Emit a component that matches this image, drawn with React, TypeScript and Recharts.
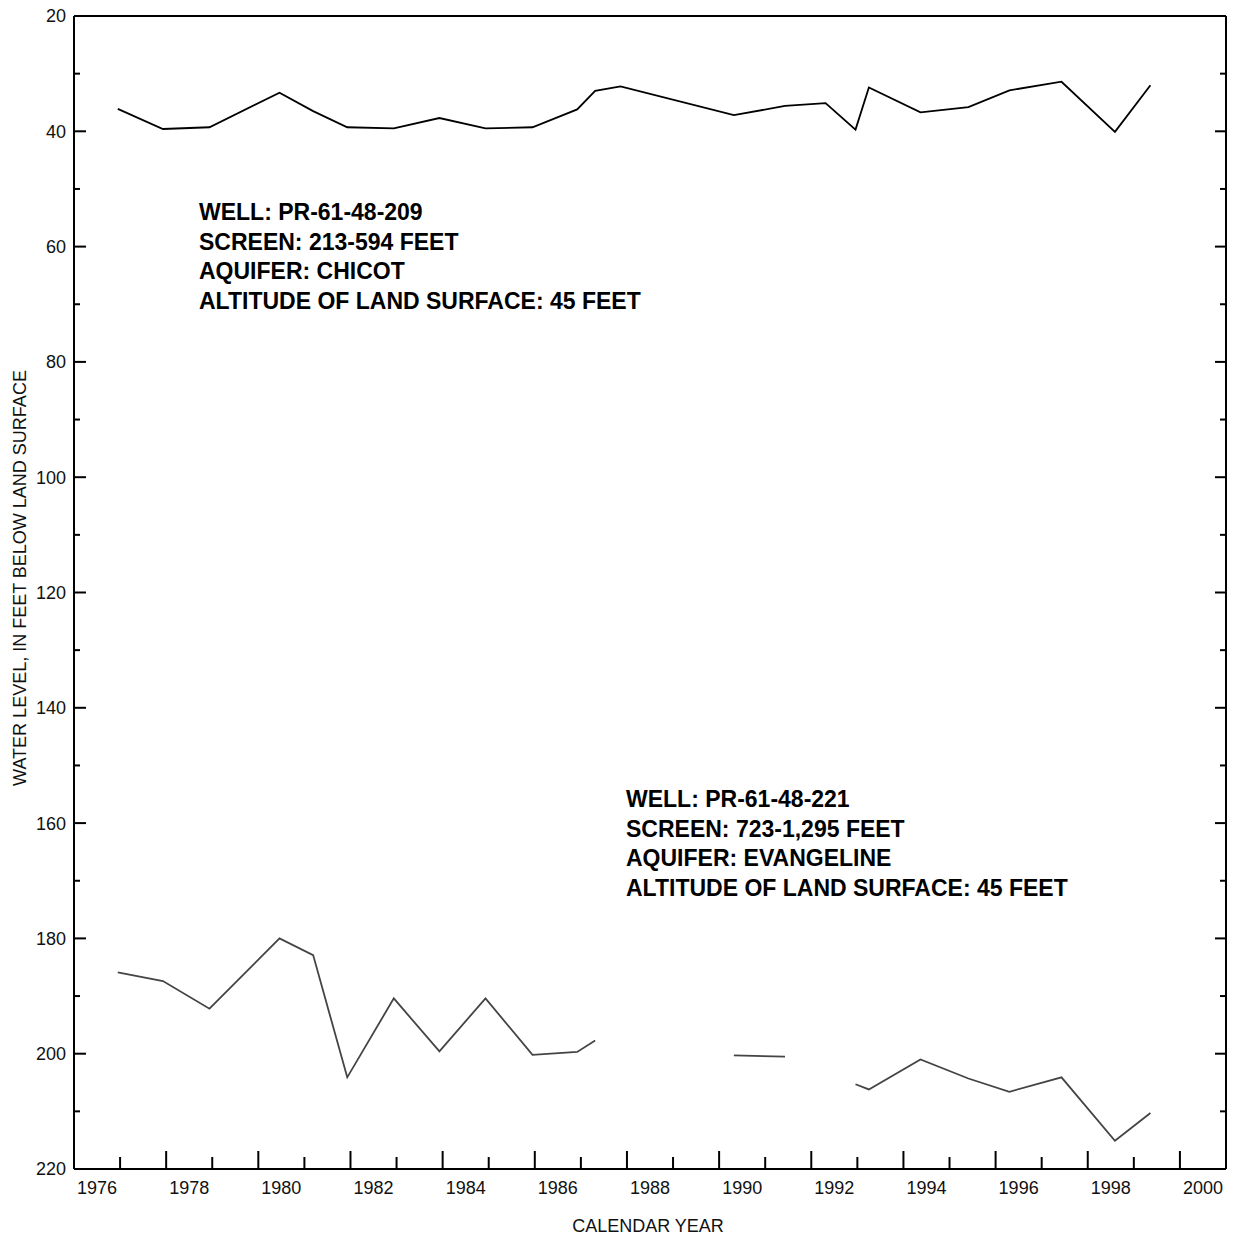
import { LineChart, Line, XAxis, YAxis } from "recharts";

// measurement dates (decimal years) shared by both wells
const years = [
  1976.95, 1977.93, 1978.94, 1980.46, 1981.19, 1981.93, 1982.94, 1983.93,
  1984.93, 1985.95, 1986.92, 1987.31, 1987.86, 1990.32, 1991.43, 1992.31,
  1992.96, 1993.25, 1994.37, 1995.41, 1996.3, 1997.43, 1998.59, 1999.36,
];

// PR-61-48-209, Chicot aquifer (feet below land surface)
const chicot = [
  36.1, 39.6, 39.3, 33.3, 36.5, 39.3, 39.5, 37.7, 39.5, 39.3, 36.2, 33.0,
  32.2, 37.2, 35.6, 35.1, 39.7, 32.4, 36.7, 35.8, 32.9, 31.4, 40.1, 32.0,
];

// PR-61-48-221, Evangeline aquifer (null = no measurement)
const evangeline = [
  185.9, 187.4, 192.2, 180.0, 182.9, 204.1, 190.4, 199.6, 190.4, 200.2,
  199.7, 197.7, null, 200.3, 200.5, null, 205.3, 206.2, 201.0, 204.3,
  206.6, 204.1, 215.1, 210.3,
];

const yearTicks = [
  1977, 1978, 1979, 1980, 1981, 1982, 1983, 1984, 1985, 1986, 1987, 1988,
  1989, 1990, 1991, 1992, 1993, 1994, 1995, 1996, 1997, 1998, 1999, 2000,
];
const yearLabels = [
  1976, 1978, 1980, 1982, 1984, 1986, 1988, 1990, 1992, 1994, 1996, 1998, 2000,
];
const depthTicks = [
  20, 30, 40, 50, 60, 70, 80, 90, 100, 110, 120, 130, 140, 150, 160, 170, 180,
  190, 200, 210, 220,
];

const wellA = [
  "WELL: PR-61-48-209",
  "SCREEN: 213-594 FEET",
  "AQUIFER: CHICOT",
  "ALTITUDE OF LAND SURFACE: 45 FEET",
];
const wellB = [
  "WELL: PR-61-48-221",
  "SCREEN: 723-1,295 FEET",
  "AQUIFER: EVANGELINE",
  "ALTITUDE OF LAND SURFACE: 45 FEET",
];

const data = years.map((year, i) => ({
  year,
  chicot: chicot[i],
  evangeline: evangeline[i],
}));

// labels sit in the middle of each labelled year
const bottomTicks = [...yearTicks, ...yearLabels.map((y) => y + 0.5)].sort(
  (a, b) => a - b
);

const FONT = "Arial, 'Liberation Sans', Helvetica, sans-serif";
const BOTTOM_GAP = 12;
const LEFT_GAP = 8;

function BottomTick(props: any) {
  const { x, y, payload } = props;
  const v = payload.value;
  if (Number.isInteger(v)) {
    const len = v % 2 === 0 ? 18 : 12;
    const base = y - BOTTOM_GAP;
    return (
      <line x1={x} x2={x} y1={base} y2={base - len} stroke="#000" strokeWidth={2} />
    );
  }
  return (
    <text
      x={x}
      y={y}
      dy="0.71em"
      textAnchor="middle"
      fontFamily={FONT}
      fontSize={18}
      fill="#111"
    >
      {Math.floor(v)}
    </text>
  );
}

function TopTick(props: any) {
  const { x, y, payload } = props;
  const len = payload.value % 2 === 0 ? 18 : 12;
  return <line x1={x} x2={x} y1={y} y2={y + len} stroke="#000" strokeWidth={2} />;
}

function LeftTick(props: any) {
  const { x, y, payload } = props;
  const v = payload.value;
  const major = v % 20 === 0;
  const base = x + LEFT_GAP;
  return (
    <g>
      <line x1={base} x2={base + (major ? 12 : 6)} y1={y} y2={y} stroke="#000" strokeWidth={2} />
      {major && (
        <text
          x={x}
          y={y}
          dy="0.36em"
          textAnchor="end"
          fontFamily={FONT}
          fontSize={18}
          fill="#111"
        >
          {v}
        </text>
      )}
    </g>
  );
}

function RightTick(props: any) {
  const { x, y, payload } = props;
  const len = payload.value % 20 === 0 ? 11 : 6;
  return <line x1={x} x2={x - len} y1={y} y2={y} stroke="#000" strokeWidth={2} />;
}

const axisLine = { stroke: "#000", strokeWidth: 2 };

export default function App() {
  return (
    <div style={{ position: "relative", width: 1233, height: 1236 }}>
      <style>{"body{margin:0}"}</style>
      <LineChart
        width={1233}
        height={1236}
        data={data}
        margin={{ top: 0, right: 0, bottom: 0, left: 8 }}
      >
        <XAxis
          dataKey="year"
          type="number"
          domain={[1976, 2001]}
          allowDataOverflow
          ticks={bottomTicks}
          interval={0}
          height={67}
          tickSize={0}
          tickMargin={BOTTOM_GAP}
          tickLine={false}
          axisLine={axisLine}
          tick={<BottomTick />}
        />
        <XAxis
          xAxisId="top"
          orientation="top"
          type="number"
          domain={[1976, 2001]}
          allowDataOverflow
          ticks={yearTicks}
          interval={0}
          height={16}
          tickSize={0}
          tickMargin={0}
          tickLine={false}
          axisLine={axisLine}
          tick={<TopTick />}
        />
        <YAxis
          type="number"
          domain={[20, 220]}
          reversed
          allowDataOverflow
          ticks={depthTicks}
          interval={0}
          width={66}
          tickSize={0}
          tickMargin={LEFT_GAP}
          tickLine={false}
          axisLine={axisLine}
          tick={<LeftTick />}
        />
        <YAxis
          yAxisId="right"
          orientation="right"
          type="number"
          domain={[20, 220]}
          reversed
          allowDataOverflow
          ticks={depthTicks}
          interval={0}
          width={7}
          tickSize={0}
          tickMargin={0}
          tickLine={false}
          axisLine={axisLine}
          tick={<RightTick />}
        />
        <Line
          type="linear"
          dataKey="chicot"
          stroke="#000"
          strokeWidth={1.8}
          dot={false}
          isAnimationActive={false}
        />
        <Line
          type="linear"
          dataKey="evangeline"
          stroke="#444"
          strokeWidth={1.8}
          dot={false}
          connectNulls={false}
          isAnimationActive={false}
        />
      </LineChart>
      <svg
        width={1233}
        height={1236}
        style={{ position: "absolute", left: 0, top: 0, pointerEvents: "none" }}
      >
        <text
          x={20}
          y={578}
          transform="rotate(-90 20 578)"
          textAnchor="middle"
          dominantBaseline="central"
          fontFamily={FONT}
          fontSize={18}
          fill="#111"
        >
          WATER LEVEL, IN FEET BELOW LAND SURFACE
        </text>
        <text
          x={648}
          y={1232}
          textAnchor="middle"
          fontFamily={FONT}
          fontSize={18}
          fill="#111"
        >
          CALENDAR YEAR
        </text>
        {wellA.map((t, i) => (
          <text
            key={t}
            x={199}
            y={220 + i * 29.6}
            fontFamily={FONT}
            fontSize={23}
            fontWeight="bold"
            fill="#000"
          >
            {t}
          </text>
        ))}
        {wellB.map((t, i) => (
          <text
            key={t}
            x={626}
            y={807 + i * 29.6}
            fontFamily={FONT}
            fontSize={23}
            fontWeight="bold"
            fill="#000"
          >
            {t}
          </text>
        ))}
      </svg>
    </div>
  );
}
